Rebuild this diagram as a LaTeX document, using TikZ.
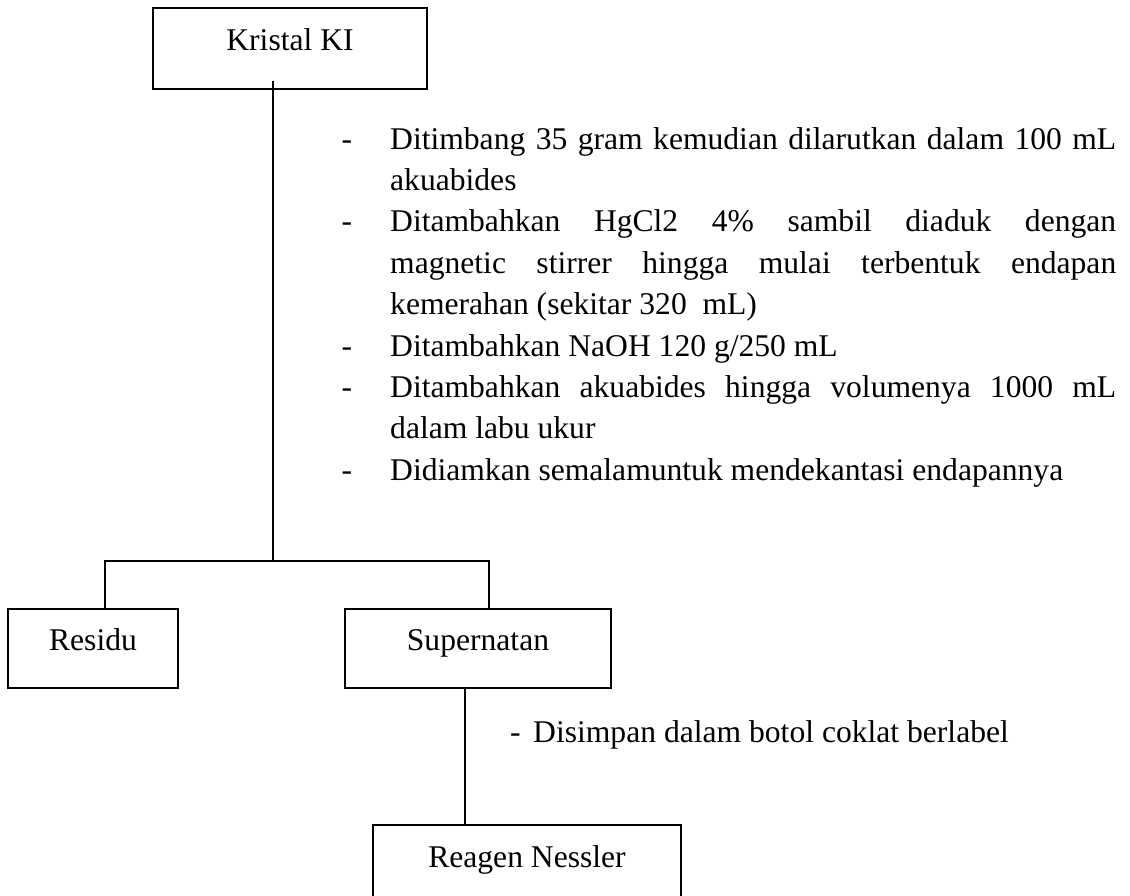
\documentclass[tikz,border=0pt]{standalone}
\usepackage{fontspec}
\setmainfont{Liberation Serif}
\newcommand{\stepdash}{\leavevmode\llap{-\hspace{38pt}}}
\begin{document}
\begin{tikzpicture}[x=1pt,y=-1pt,
  every node/.style={font=\fontsize{31.6}{41.4}\selectfont},
  stagebox/.style={draw, line width=2pt, inner sep=0pt, align=center,
    text height=22pt, text depth=18pt},
  link/.style={line width=2pt},
  steps/.style={inner sep=0pt, anchor=north west, text width=726pt, align=justify}]
\useasboundingbox (0,0) rectangle (1130,895);
\clip (0,0) rectangle (1130,895);

% stages
\node[stagebox, minimum width=274pt, minimum height=81pt] (kristal) at (290,48.5) {Kristal KI};
\node[stagebox, minimum width=170pt, minimum height=79pt] (residu) at (93,648.5) {Residu};
\node[stagebox, minimum width=266pt, minimum height=79pt] (supernatan) at (478,648.5) {Supernatan};
\node[stagebox, minimum width=308pt, minimum height=80pt] (reagen) at (527,865) {Reagen Nessler};

% treatment steps
\node[steps] (langkah) at (390,120) {%
  \hbadness=10000 \parindent=0pt \parskip=0pt
  \stepdash\strut Ditimbang 35 gram kemudian dilarutkan dalam 100 mL\linebreak akuabides\par
  \stepdash Ditambahkan HgCl2 4\% sambil diaduk dengan\linebreak magnetic stirrer hingga mulai terbentuk endapan\linebreak kemerahan (sekitar 320~~mL)\par
  \stepdash Ditambahkan NaOH 120 g/250 mL\par
  \stepdash Ditambahkan akuabides hingga volumenya 1000 mL\linebreak dalam labu ukur\par
  \stepdash Didiamkan semalamuntuk mendekantasi endapannya\par};
\node[inner sep=0pt, anchor=base west] (simpan) at (510,742) {-\hspace{12.5pt}Disimpan dalam botol coklat berlabel};

% connectors
\coordinate (fork) at (273,561);
\draw[link] ([shift={(-17pt,9pt)}]kristal.south) -- (fork);
\draw[link] ([xshift=12pt]residu.north) |- (fork) -| ([xshift=11pt]supernatan.north);
\draw[link] ([xshift=-13pt]supernatan.south) -- ([xshift=-13pt]supernatan.south |- reagen.north);
\end{tikzpicture}
\end{document}
